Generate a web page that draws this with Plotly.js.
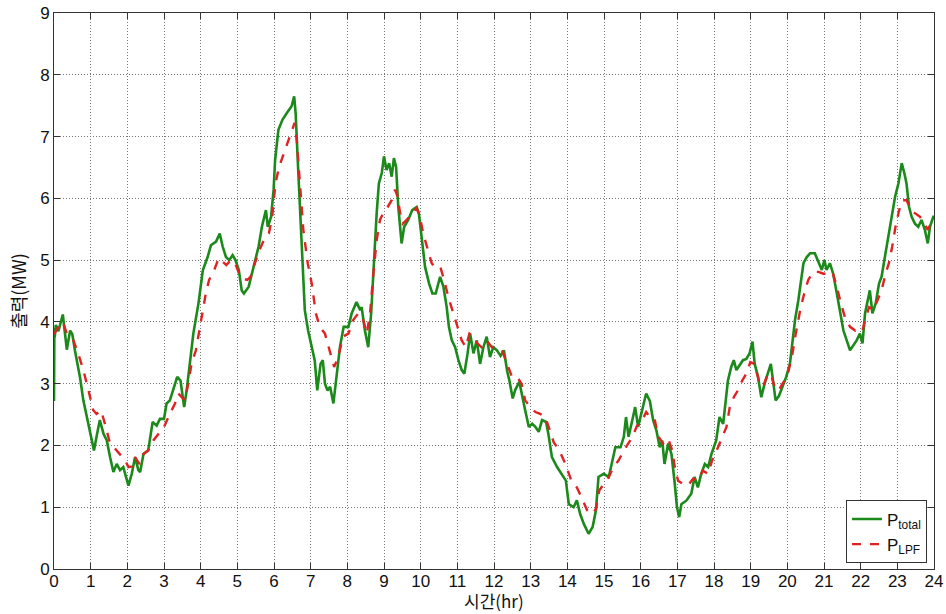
<!DOCTYPE html>
<html>
<head>
<meta charset="utf-8">
<script src="https://cdn.plot.ly/plotly-3.0.1.min.js"></script>
<style>
  html, body { margin: 0; padding: 0; background: #fff; }
  #chart { width: 946px; height: 614px; }
</style>
</head>
<body>
<div id="chart"></div>
<script>
// Total output power (MW) vs time (hr)
const tTotal = [0, 0.01, 0.02, 0.05, 0.12, 0.24, 0.3, 0.35, 0.44, 0.5, 0.57, 0.71, 0.8, 0.89, 0.98, 1.09, 1.16, 1.25, 1.35, 1.44, 1.53, 1.62, 1.71, 1.8, 1.89, 2.03, 2.12, 2.21, 2.3, 2.35, 2.44, 2.57, 2.69, 2.8, 2.89, 3.0, 3.07, 3.16, 3.25, 3.36, 3.45, 3.55, 3.62, 3.71, 3.8, 3.94,
  4.06, 4.19, 4.28, 4.42, 4.52, 4.6, 4.69, 4.78, 4.87, 4.95, 5.04, 5.12, 5.18, 5.31, 5.45, 5.58, 5.67, 5.78, 5.83, 5.92, 5.99, 6.03, 6.12, 6.23, 6.35, 6.48, 6.55, 6.59, 6.66, 6.73, 6.79, 6.84, 6.93, 7.02, 7.11, 7.18, 7.27, 7.33, 7.39, 7.46, 7.53, 7.62, 7.7, 7.8, 7.9,
  8.03, 8.12, 8.25, 8.35, 8.39, 8.48, 8.57, 8.65, 8.71, 8.8, 8.86, 8.94, 9.0, 9.07, 9.14, 9.21, 9.27, 9.33, 9.39, 9.48, 9.55, 9.66, 9.77, 9.89, 9.95, 10.03, 10.12, 10.23, 10.32, 10.41, 10.53, 10.62, 10.71, 10.77, 10.85, 10.94, 11.03, 11.12, 11.19, 11.28, 11.35, 11.44, 11.53, 11.62, 11.71, 11.8, 11.89, 11.98,
  12.08, 12.18, 12.27, 12.36, 12.42, 12.51, 12.58, 12.69, 12.76, 12.85, 12.95, 13.04, 13.13, 13.22, 13.31, 13.42, 13.49, 13.58, 13.72, 13.85, 13.96, 14.04, 14.17, 14.26, 14.35, 14.45, 14.58, 14.69, 14.78, 14.85, 14.99, 15.13, 15.22, 15.31, 15.45, 15.54, 15.6, 15.67, 15.75, 15.85, 15.93, 16.04,
  16.15, 16.25, 16.34, 16.43, 16.52, 16.59, 16.65, 16.75, 16.84, 16.93, 16.99, 17.05, 17.11, 17.25, 17.38, 17.47, 17.56, 17.65, 17.75, 17.84, 17.93, 18.06, 18.15, 18.25, 18.32, 18.38, 18.47, 18.54, 18.61, 18.7, 18.79, 18.88, 18.97, 19.05, 19.11, 19.2, 19.29, 19.38, 19.47, 19.55, 19.61, 19.68, 19.77, 19.86, 19.97,
  20.07, 20.14, 20.21, 20.3, 20.37, 20.44, 20.53, 20.62, 20.75, 20.85, 20.94, 21.01, 21.07, 21.16, 21.25, 21.35, 21.44, 21.53, 21.62, 21.71, 21.8, 21.89, 21.98, 22.05, 22.12, 22.19, 22.25, 22.32, 22.41, 22.5, 22.57, 22.66, 22.75, 22.85, 22.94, 23.03, 23.12, 23.19, 23.25, 23.32, 23.39, 23.48, 23.57, 23.66, 23.75, 23.83, 23.89, 23.98, 24.0];
const pTotal = [2.72, 3.9, 3.75, 3.95, 3.85, 4.12, 3.85, 3.55, 3.86, 3.8, 3.54, 3.1, 2.73, 2.46, 2.19, 1.92, 2.14, 2.41, 2.19, 2.08, 1.81, 1.57, 1.7, 1.6, 1.65, 1.35, 1.54, 1.81, 1.6, 1.57, 1.86, 1.92, 2.38, 2.32, 2.43, 2.43, 2.68, 2.73, 2.9, 3.11, 3.05, 2.62, 2.9, 3.38, 3.81, 4.3,
  4.84, 5.05, 5.24, 5.3, 5.43, 5.22, 5.05, 5.0, 5.08, 5.0, 4.84, 4.51, 4.46, 4.57, 4.89, 5.22, 5.54, 5.81, 5.54, 5.7, 6.14, 6.62, 7.11, 7.27, 7.38, 7.49, 7.65, 7.38, 6.46, 5.49, 4.73, 4.19, 3.86, 3.59, 3.38, 2.89, 3.32, 3.38, 3.0, 2.89, 2.95, 2.68, 3.11, 3.6, 3.92,
  3.92, 4.14, 4.32, 4.19, 4.24, 3.86, 3.59, 4.14, 4.89, 5.76, 6.24, 6.41, 6.68, 6.46, 6.57, 6.35, 6.65, 6.51, 5.86, 5.27, 5.54, 5.65, 5.81, 5.86, 5.76, 5.32, 4.89, 4.62, 4.46, 4.46, 4.73, 4.57, 4.24, 3.92, 3.7, 3.59, 3.38, 3.22, 3.16, 3.49, 3.81, 3.49, 3.7, 3.32, 3.59, 3.76, 3.43, 3.59,
  3.54, 3.45, 3.54, 3.2, 3.05, 2.76, 2.9, 3.03, 2.85, 2.57, 2.3, 2.35, 2.3, 2.22, 2.41, 2.38, 2.16, 1.81, 1.65, 1.54, 1.43, 1.05, 1.0, 1.11, 0.89, 0.73, 0.57, 0.68, 0.95, 1.49, 1.54, 1.49, 1.76, 1.97, 1.97, 2.14, 2.46, 2.14, 2.35, 2.62, 2.3, 2.57,
  2.84, 2.72, 2.41, 2.24, 1.97, 2.08, 1.7, 2.03, 1.86, 1.38, 1.0, 0.84, 1.05, 1.11, 1.22, 1.49, 1.32, 1.54, 1.7, 1.65, 1.86, 2.08, 2.46, 2.35, 2.68, 3.05, 3.27, 3.38, 3.22, 3.3, 3.38, 3.4, 3.49, 3.68, 3.32, 3.11, 2.78, 3.0, 3.16, 3.32, 3.05, 2.73, 2.8, 2.95, 3.11,
  3.32, 3.7, 4.03, 4.35, 4.68, 4.95, 5.05, 5.11, 5.11, 4.95, 4.84, 5.0, 4.84, 4.95, 4.78, 4.46, 4.19, 3.86, 3.7, 3.54, 3.62, 3.7, 3.81, 3.65, 4.14, 4.35, 4.51, 4.14, 4.3, 4.62, 4.73, 5.05, 5.38, 5.7, 6.03, 6.24, 6.57, 6.41, 6.24, 5.86, 5.7, 5.59, 5.54, 5.65, 5.49, 5.27, 5.54, 5.7, 5.7];

// Low-pass filtered output (MW)
const tLpf = [0, 0.12, 0.24, 0.35, 0.44, 0.53, 0.66, 0.8, 0.94, 1.07, 1.16, 1.28, 1.39, 1.53, 1.66, 1.8, 1.94, 2.03, 2.12, 2.21, 2.33, 2.44, 2.57, 2.71, 2.85, 3.0, 3.16, 3.3, 3.39, 3.48, 3.57, 3.66, 3.75, 3.87, 3.96,
  4.05, 4.14, 4.23, 4.37, 4.49, 4.59, 4.7, 4.82, 4.94, 5.05, 5.14, 5.27, 5.36, 5.48, 5.6, 5.72, 5.86, 5.95, 6.04, 6.14, 6.26, 6.4, 6.5, 6.56, 6.62, 6.71, 6.8, 6.92, 7.03, 7.14, 7.25, 7.39, 7.52, 7.64, 7.75, 7.88,
  8.03, 8.16, 8.3, 8.41, 8.53, 8.62, 8.71, 8.8, 8.89, 8.98, 9.1, 9.21, 9.3, 9.37, 9.44, 9.51, 9.62, 9.75, 9.89, 9.98, 10.07, 10.19, 10.3, 10.44, 10.55, 10.64, 10.75, 10.89, 11.01, 11.12, 11.23, 11.33, 11.44, 11.55, 11.66, 11.8, 11.94,
  12.04, 12.22, 12.35, 12.49, 12.63, 12.75, 12.85, 12.99, 13.13, 13.26, 13.4, 13.51, 13.63, 13.78, 13.95, 14.11, 14.26, 14.4, 14.54, 14.67, 14.78, 14.87, 14.99, 15.13, 15.26, 15.4, 15.54, 15.67, 15.78, 15.9,
  16.02, 16.15, 16.29, 16.38, 16.47, 16.61, 16.75, 16.86, 16.93, 17.02, 17.15, 17.29, 17.43, 17.56, 17.7, 17.84, 17.95, 18.11, 18.23, 18.34, 18.43, 18.54, 18.65, 18.77, 18.88, 18.99, 19.11, 19.23, 19.34, 19.47, 19.56, 19.68, 19.79, 19.92,
  20.03, 20.14, 20.23, 20.35, 20.46, 20.57, 20.71, 20.85, 20.98, 21.12, 21.23, 21.35, 21.46, 21.57, 21.71, 21.85, 21.95, 22.05, 22.12, 22.23, 22.35, 22.46, 22.57, 22.68, 22.77, 22.86, 22.95, 23.05, 23.14, 23.25, 23.37, 23.48, 23.62, 23.74, 23.83, 23.94, 24.0];
const pLpf = [3.8, 3.92, 4.0, 3.81, 3.76, 3.7, 3.49, 3.22, 2.89, 2.57, 2.51, 2.57, 2.35, 2.03, 1.95, 1.86, 1.76, 1.65, 1.66, 1.81, 1.7, 1.86, 1.92, 2.08, 2.19, 2.3, 2.51, 2.68, 2.84, 2.78, 2.73, 3.0, 3.32, 3.54, 3.86,
  4.19, 4.46, 4.68, 4.84, 5.03, 4.97, 4.92, 5.0, 4.95, 4.78, 4.7, 4.68, 4.73, 4.95, 5.16, 5.32, 5.43, 5.7, 6.24, 6.51, 6.73, 6.95, 7.11, 7.22, 6.95, 6.24, 5.49, 4.95, 4.62, 4.14, 3.92, 3.81, 3.54, 3.27, 3.43, 3.76,
  3.81, 4.03, 4.14, 4.08, 3.81, 4.14, 4.78, 5.32, 5.65, 5.76, 5.86, 5.97, 6.14, 6.03, 5.76, 5.59, 5.65, 5.76, 5.84, 5.7, 5.43, 5.16, 4.95, 4.84, 4.86, 4.68, 4.41, 4.14, 3.92, 3.7, 3.59, 3.81, 3.76, 3.65, 3.59, 3.7, 3.59,
  3.58, 3.54, 3.32, 3.11, 3.11, 3.0, 2.73, 2.62, 2.54, 2.51, 2.46, 2.27, 2.05, 1.92, 1.7, 1.43, 1.32, 1.14, 0.95, 0.89, 0.97, 1.27, 1.38, 1.49, 1.65, 1.76, 1.92, 2.05, 2.14, 2.32,
  2.38, 2.54, 2.43, 2.43, 2.16, 2.03, 2.11, 1.92, 1.65, 1.43, 1.38, 1.35, 1.46, 1.43, 1.59, 1.54, 1.76, 1.97, 2.14, 2.3, 2.62, 2.78, 2.89, 3.05, 3.16, 3.35, 3.32, 3.03, 2.95, 3.16, 3.14, 2.89, 2.92, 3.05,
  3.2, 3.49, 3.81, 4.19, 4.46, 4.68, 4.81, 4.81, 4.78, 4.78, 4.81, 4.57, 4.3, 4.08, 3.92, 3.86, 3.9, 3.86, 4.03, 4.24, 4.19, 4.35, 4.51, 4.78, 4.95, 5.22, 5.54, 5.81, 5.97, 5.97, 5.81, 5.76, 5.7, 5.59, 5.49, 5.65, 5.65];

const xTicks = Array.from({length: 25}, (_, i) => i);
const yTicks = [0, 1, 2, 3, 4, 5, 6, 7, 8, 9];

const traces = [
  {
    x: tTotal, y: pTotal, type: 'scatter', mode: 'lines',
    name: 'P<sub>total</sub>',
    line: {color: '#1b8a1b', width: 2.6}
  },
  {
    x: tLpf, y: pLpf, type: 'scatter', mode: 'lines',
    name: 'P<sub>LPF</sub>',
    line: {color: '#e02222', width: 2.4, dash: 'dash'}
  }
];

const axisCommon = {
  showline: true, linecolor: '#333', linewidth: 1, mirror: 'ticks',
  ticks: 'inside', ticklen: 6, tickcolor: '#333',
  showgrid: true, gridcolor: '#777', gridwidth: 1, griddash: '1px,2px',
  zeroline: false,
  tickfont: {family: 'Liberation Sans, Arial, sans-serif', size: 17, color: '#111'}
};

const layout = {
  width: 946, height: 614,
  margin: {l: 54, r: 12, t: 13, b: 45},
  paper_bgcolor: '#fff', plot_bgcolor: '#fff',
  showlegend: true,
  xaxis: Object.assign({}, axisCommon, {
    range: [0, 24], tickvals: xTicks, ticktext: xTicks.map(String),
    ticklabelstandoff: -3
  }),
  yaxis: Object.assign({}, axisCommon, {
    range: [0, 9], tickvals: yTicks, ticktext: yTicks.map(String),
    title: {text: '출력(MW)', standoff: 8,
      font: {family: 'Noto Sans CJK KR, sans-serif', size: 18, color: '#111'}}
  }),
  // x-axis title sits at the bottom edge, just under the tick labels
  annotations: [{
    text: '시간(hr)', xref: 'paper', yref: 'paper',
    x: 0.5, y: -0.0809, xanchor: 'center', yanchor: 'bottom',
    showarrow: false, borderpad: 0,
    font: {family: 'Noto Sans CJK KR, sans-serif', size: 17, color: '#111'}
  }],
  legend: {
    x: 0.992, y: 0.01, xanchor: 'right', yanchor: 'bottom',
    bgcolor: '#fff', bordercolor: '#333', borderwidth: 1,
    font: {family: 'Liberation Sans, Arial, sans-serif', size: 17, color: '#111'},
    tracegroupgap: 0
  }
};

Plotly.newPlot('chart', traces, layout, {displayModeBar: false, staticPlot: true});
</script>
</body>
</html>
